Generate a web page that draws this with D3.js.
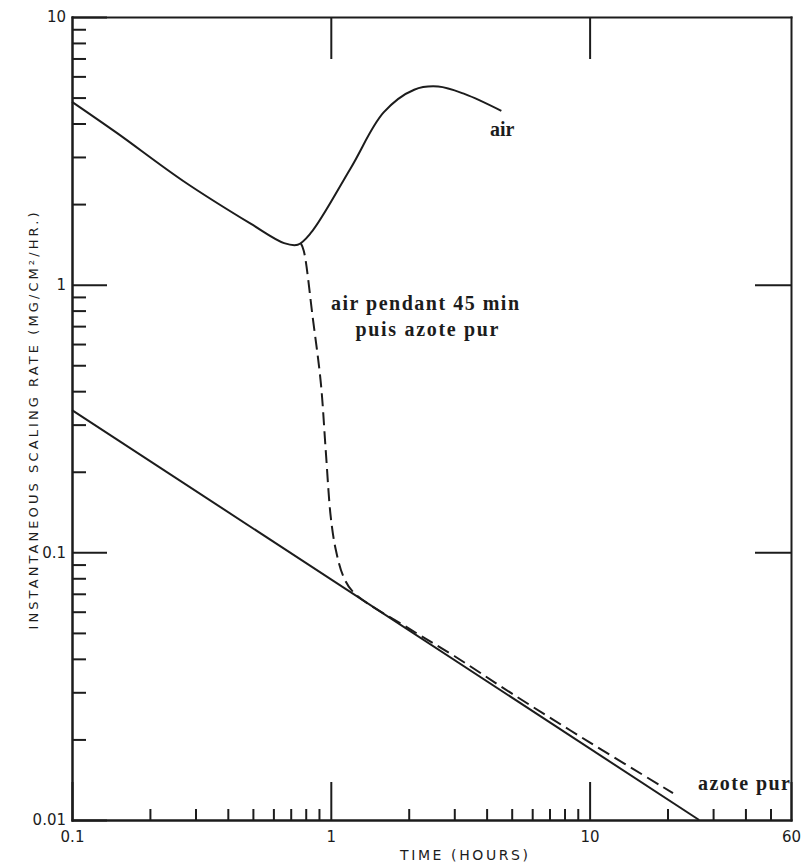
<!DOCTYPE html>
<html>
<head>
<meta charset="utf-8">
<script src="https://cdn.jsdelivr.net/npm/d3@7"></script>
<style>
  body { margin: 0; background: #fff; }
  .axis path, .axis line { stroke: #1c1c1c; stroke-width: 2; }
  .axis text { font-family: "DejaVu Sans", sans-serif; font-size: 15px; fill: #1c1c1c; }
  .lbl { font-family: "Liberation Serif", serif; font-weight: bold; font-size: 20px; fill: #1c1c1c; }
</style>
</head>
<body>
<div id="chart"></div>
<script>
// values
var xMajor = [0.1, 1, 10, 60];
var xMajorLabels = ["0.1", "1", "10", "60"];
var yMajor = [0.01, 0.1, 1, 10];
var yMajorLabels = ["0.01", "0.1", "1", "10"];

// air all the way
var airTime = [0.1, 0.149, 0.269, 0.49, 0.66, 0.745, 0.837, 1.195, 1.6, 2.1, 2.6, 3.3, 4.56];
var airRate = [4.82, 3.69, 2.44, 1.69, 1.43, 1.41, 1.56, 2.73, 4.4, 5.35, 5.5, 5.15, 4.46];

// pure nitrogen
var n2Time = [0.1, 26.5];
var n2Rate = [0.34, 0.01];

// air for 45 min then nitrogen
var switchTime = [0.765, 0.786, 0.852, 0.915, 0.956, 1.0, 1.046, 1.12, 1.23, 2, 3, 5, 10, 21];
var switchRate = [1.43, 1.34, 0.75, 0.43, 0.24, 0.135, 0.102, 0.081, 0.0705, 0.052, 0.041, 0.0297, 0.0195, 0.0126];

var w = 801, h = 863;
var mLeft = 72, mRight = 791, mTop = 17, mBottom = 820;

var svg = d3.select("#chart")
            .append("svg")
            .attr("width", w)
            .attr("height", h);

var xScale = d3.scaleLog().domain([0.1, 60]).range([mLeft, mRight]);
var yScale = d3.scaleLog().domain([0.01, 10]).range([mBottom, mTop]);

var isMajor = function(d) { return Math.abs(Math.log10(d) - Math.round(Math.log10(d))) < 1e-9; };
var xMinor = xScale.ticks().filter(function(d) { return !isMajor(d) && d < 60; });
var yMinor = yScale.ticks().filter(function(d) { return !isMajor(d); });

// minor ticks
svg.append("g").attr("class", "axis")
    .attr("transform", "translate(0," + mBottom + ")")
    .call(d3.axisBottom(xScale).tickValues(xMinor).tickFormat("").tickSize(-11).tickSizeOuter(0));
svg.append("g").attr("class", "axis")
    .attr("transform", "translate(" + mLeft + ",0)")
    .call(d3.axisLeft(yScale).tickValues(yMinor).tickFormat("").tickSize(-14).tickSizeOuter(0));

// major ticks + labels
svg.append("g").attr("class", "axis")
    .attr("transform", "translate(0," + mBottom + ")")
    .call(d3.axisBottom(xScale).tickValues(xMajor)
        .tickFormat(function(d, i) { return xMajorLabels[i]; })
        .tickSize(-38).tickSizeOuter(0).tickPadding(11));
svg.append("g").attr("class", "axis")
    .attr("transform", "translate(" + mLeft + ",0)")
    .call(d3.axisLeft(yScale).tickValues(yMajor)
        .tickFormat(function(d, i) { return yMajorLabels[i]; })
        .tickSize(-35).tickSizeOuter(0).tickPadding(6));

// frame: top and right
svg.append("g").attr("class", "axis")
    .attr("transform", "translate(0," + mTop + ")")
    .call(d3.axisTop(xScale).tickValues([1, 10]).tickFormat("").tickSize(-42).tickSizeOuter(0));
svg.append("g").attr("class", "axis")
    .attr("transform", "translate(" + mRight + ",0)")
    .call(d3.axisRight(yScale).tickValues([0.1, 1]).tickFormat("").tickSize(-36).tickSizeOuter(0));

svg.selectAll(".axis .domain").attr("stroke-linecap", "square");

var line = d3.line()
    .x(function(d) { return xScale(d[0]); })
    .y(function(d) { return yScale(d[1]); })
    .curve(d3.curveCatmullRom.alpha(0.5));

var zip = function(a, b) { return a.map(function(v, i) { return [v, b[i]]; }); };

svg.append("path")
    .attr("d", line(zip(airTime, airRate)))
    .attr("fill", "none").attr("stroke", "#1c1c1c").attr("stroke-width", 2);

svg.append("path")
    .attr("d", line(zip(n2Time, n2Rate)))
    .attr("fill", "none").attr("stroke", "#1c1c1c").attr("stroke-width", 2);

svg.append("path")
    .attr("d", line(zip(switchTime, switchRate)))
    .attr("fill", "none").attr("stroke", "#1c1c1c").attr("stroke-width", 2)
    .attr("stroke-dasharray", "13,6");

// curve labels
svg.append("text").attr("class", "lbl")
    .attr("x", 490).attr("y", 136).text("air");
svg.append("text").attr("class", "lbl")
    .attr("x", 425).attr("y", 310).attr("text-anchor", "middle")
    .attr("textLength", 188).text("air pendant 45 min");
svg.append("text").attr("class", "lbl")
    .attr("x", 427).attr("y", 336).attr("text-anchor", "middle")
    .attr("textLength", 143).text("puis azote pur");
svg.append("text").attr("class", "lbl")
    .attr("x", 698).attr("y", 790)
    .attr("textLength", 92).text("azote pur");

// axis titles
svg.append("text")
    .attr("x", 464).attr("y", 860).attr("text-anchor", "middle")
    .attr("textLength", 128)
    .style("font-family", "DejaVu Sans, sans-serif").style("font-size", "14px").style("fill", "#1c1c1c")
    .text("TIME (HOURS)");

svg.append("text")
    .attr("transform", "translate(38,421) rotate(-90)")
    .attr("text-anchor", "middle")
    .attr("textLength", 417)
    .style("font-family", "DejaVu Sans, sans-serif").style("font-size", "13px").style("fill", "#1c1c1c")
    .text("INSTANTANEOUS SCALING RATE (MG/CM²/HR.)");
</script>
</body>
</html>
